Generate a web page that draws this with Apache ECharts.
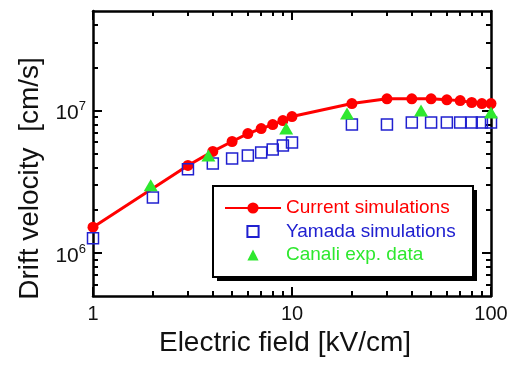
<!DOCTYPE html>
<html>
<head>
<meta charset="utf-8">
<script src="https://cdn.jsdelivr.net/npm/echarts@6.0.0/dist/echarts.min.js"></script>
<style>
  html, body { margin: 0; padding: 0; background: #fff; }
  #main { width: 508px; height: 365px; }
</style>
</head>
<body>
<div id="main"></div>
<script>
// electric field [kV/cm] and drift velocity [cm/s]
var currentField = [1, 3, 4, 5, 6, 7, 8, 9, 10, 20, 30, 40, 50, 60, 70, 80, 90, 100];
var currentVel = [1.52e6, 4.12e6, 5.17e6, 6.07e6, 6.9e6, 7.48e6, 7.98e6, 8.51e6, 9.08e6,
  1.12e7, 1.21e7, 1.21e7, 1.21e7, 1.19e7, 1.175e7, 1.14e7, 1.12e7, 1.12e7];

var yamadaField = [1, 2, 3, 4, 5, 6, 7, 8, 9, 10, 20, 30, 40, 50, 60, 70, 80, 90, 100];
var yamadaVel = [1.27e6, 2.46e6, 3.87e6, 4.26e6, 4.62e6, 4.85e6, 5.08e6, 5.34e6, 5.69e6, 5.97e6,
  7.98e6, 7.98e6, 8.24e6, 8.24e6, 8.24e6, 8.24e6, 8.24e6, 8.24e6, 8.24e6];

var canaliField = [1.95, 3.8, 9.35, 18.9, 44.5, 100];
var canaliVel = [2.99e6, 4.85e6, 7.48e6, 9.53e6, 1.0e7, 9.68e6];

var xMajor = [1, 10, 100];
var xMinor = [2, 3, 4, 5, 6, 7, 8, 9, 20, 30, 40, 50, 60, 70, 80, 90];
var yMajor = [1e6, 1e7];
var yMinor = [6e5, 7e5, 8e5, 9e5, 2e6, 3e6, 4e6, 5e6, 6e6, 7e6, 8e6, 9e6, 2e7, 3e7, 4e7];
var xRange = [1, 100];
var yRange = [5e5, 5e7];

var names = ["Current simulations", "Yamada simulations", "Canali exp. data"];
var RED = "#ff0000", BLUE = "#2020d0", GREEN = "#2ee82e";

function lg(v) { return Math.log10(v); }
function pairs(xs, ys) {
  return xs.map(function (x, i) { return [lg(x), lg(ys[i])]; });
}

var font = "Arial, 'Liberation Sans', sans-serif";

function xAxis(pos, major, labels) {
  return {
    type: "value", position: pos, min: lg(xRange[0]), max: lg(xRange[1]),
    name: labels ? "Electric field [kV/cm]" : "",
    nameLocation: "middle", nameGap: 32,
    nameTextStyle: { fontSize: 28, color: "#111", fontFamily: font, padding: [0, 14, 0, 0] },
    axisLine: { show: major, onZero: false, lineStyle: { color: "#000", width: 2.5 } },
    axisTick: { show: true, inside: true, length: major ? 9 : 5,
      customValues: (major ? xMajor : xMinor).map(lg),
      lineStyle: { color: "#000", width: 2 } },
    axisLabel: { show: !!labels, customValues: xMajor.map(lg), margin: 8,
      fontSize: 20, color: "#111", fontFamily: font,
      formatter: function (v) { return String(Math.round(Math.pow(10, v))); } },
    splitLine: { show: false }
  };
}

function yAxis(pos, major, labels) {
  return {
    type: "value", position: pos, min: lg(yRange[0]), max: lg(yRange[1]),
    name: labels ? "Drift velocity  [cm/s]" : "",
    nameLocation: "middle", nameGap: 49,
    nameTextStyle: { fontSize: 28, color: "#111", fontFamily: font, padding: [0, 50, 0, 0] },
    axisLine: { show: major, onZero: false, lineStyle: { color: "#000", width: 2.5 } },
    axisTick: { show: true, inside: true, length: major ? 9 : 5,
      customValues: (major ? yMajor : yMinor).map(lg),
      lineStyle: { color: "#000", width: 2 } },
    axisLabel: { show: !!labels, customValues: yMajor.map(lg), margin: 7,
      formatter: function (v) { return "{b|10}{s|" + Math.round(v) + "}"; },
      rich: {
        b: { fontSize: 21, color: "#111", fontFamily: font, padding: [6, 0, 0, 0] },
        s: { fontSize: 13, color: "#111", fontFamily: font, padding: [0, 0, 8, 0] }
      } },
    splitLine: { show: false }
  };
}

var chart = echarts.init(document.getElementById("main"));
chart.setOption({
  animation: false,
  grid: { left: 93, right: 17, top: 11, bottom: 69, outerBoundsMode: "none" },
  xAxis: [xAxis("bottom", true, true), xAxis("bottom", false, false),
          xAxis("top", true, false), xAxis("top", false, false)],
  yAxis: [yAxis("left", true, true), yAxis("left", false, false),
          yAxis("right", true, false), yAxis("right", false, false)],
  // legend frame with a solid offset shadow
  graphic: [
    { type: "rect", z: 3, shape: { x: 217, y: 190, width: 260, height: 91 },
      style: { fill: "#000" } },
    { type: "rect", z: 3, shape: { x: 213, y: 186, width: 260, height: 91 },
      style: { fill: "#fff", stroke: "#000", lineWidth: 2 } }
  ],
  legend: {
    orient: "vertical", left: 213, top: 186, z: 5,
    padding: [11, 0, 0, 11], itemGap: 1.5,
    itemWidth: 56, itemHeight: 14,
    textStyle: { fontSize: 19, fontFamily: font, lineHeight: 22 },
    data: [
      { name: names[0], textStyle: { color: RED } },
      { name: names[1], textStyle: { color: BLUE } },
      { name: names[2], textStyle: { color: GREEN } }
    ]
  },
  series: [
    {
      name: names[0], type: "line", data: pairs(currentField, currentVel),
      symbol: "circle", symbolSize: 11, clip: false,
      lineStyle: { color: RED, width: 3 }, itemStyle: { color: RED }
    },
    {
      name: names[1], type: "line", data: pairs(yamadaField, yamadaVel),
      symbol: "rect", symbolSize: 11, clip: false, showSymbol: true,
      lineStyle: { width: 0, opacity: 0 },
      itemStyle: { color: "rgba(255,255,255,0)", borderColor: BLUE, borderWidth: 1.5 }
    },
    {
      name: names[2], type: "line", data: pairs(canaliField, canaliVel),
      symbol: "triangle", symbolSize: [14, 12], clip: false, showSymbol: true,
      lineStyle: { width: 0, opacity: 0 },
      itemStyle: { color: GREEN }
    }
  ]
});
</script>
</body>
</html>
